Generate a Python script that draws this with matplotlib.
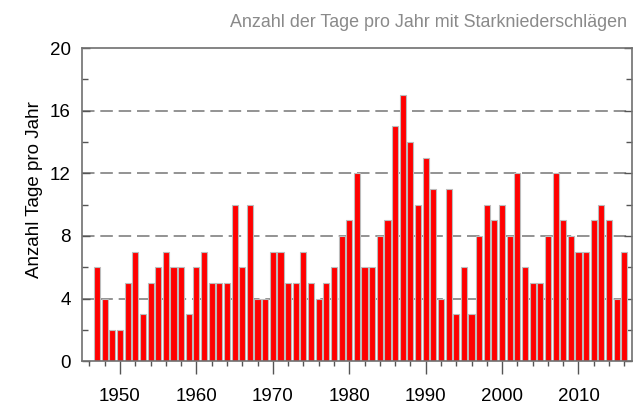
import matplotlib.pyplot as plt
from matplotlib.ticker import MultipleLocator

plt.rcParams['font.family'] = ['Liberation Sans', 'DejaVu Sans']

years = list(range(1947, 2017))
tage = [6, 4, 2, 2, 5, 7, 3, 5, 6, 7,
        6, 6, 3, 6, 7, 5, 5, 5, 10, 6,
        10, 4, 4, 7, 7, 5, 5, 7, 5, 4,
        5, 6, 8, 9, 12, 6, 6, 8, 9, 15,
        17, 14, 10, 13, 11, 4, 11, 3, 6, 3,
        8, 10, 9, 10, 8, 12, 6, 5, 5, 8,
        12, 9, 8, 7, 7, 9, 10, 9, 4, 7]

fig = plt.figure(figsize=(6.39, 4.04), dpi=100)
ax = fig.add_axes([0.128, 0.106, 0.861, 0.775])

ax.bar(years, tage, width=0.8, color='#ff0000', edgecolor='#bcbcbc', linewidth=0.8, zorder=2)

# gestrichelte Hilfslinien
for y in [4, 8, 12, 16]:
    ax.axhline(y, color='#808080', linestyle=(0, (7.5, 3.5)), linewidth=1.2, zorder=1)

ax.set_xlim(1945, 2017)
ax.set_ylim(0, 20)
ax.xaxis.set_major_locator(MultipleLocator(10))
ax.xaxis.set_minor_locator(MultipleLocator(2))
ax.yaxis.set_major_locator(MultipleLocator(4))
ax.yaxis.set_minor_locator(MultipleLocator(2))

ax.tick_params(axis='both', which='both', color='#555555', width=1, labelsize=13.5)
ax.tick_params(axis='x', which='major', direction='out', length=9, pad=10)
ax.tick_params(axis='x', which='minor', direction='out', length=3.5)
ax.tick_params(axis='y', which='major', direction='in', length=6, right=True, pad=8)
ax.tick_params(axis='y', which='minor', direction='in', length=4, right=True)

for s in ax.spines.values():
    s.set_color('#707070')
    s.set_linewidth(1.2)

fig.text(35 / 639, 0.532, 'Anzahl Tage pro Jahr', rotation=90,
         ha='center', va='center', fontsize=13.5)
fig.text(0.67, 0.945, 'Anzahl der Tage pro Jahr mit Starkniederschlägen',
         ha='center', va='center', fontsize=12.9, color='#8a8a8a')

fig.savefig('out.png', dpi=100)
